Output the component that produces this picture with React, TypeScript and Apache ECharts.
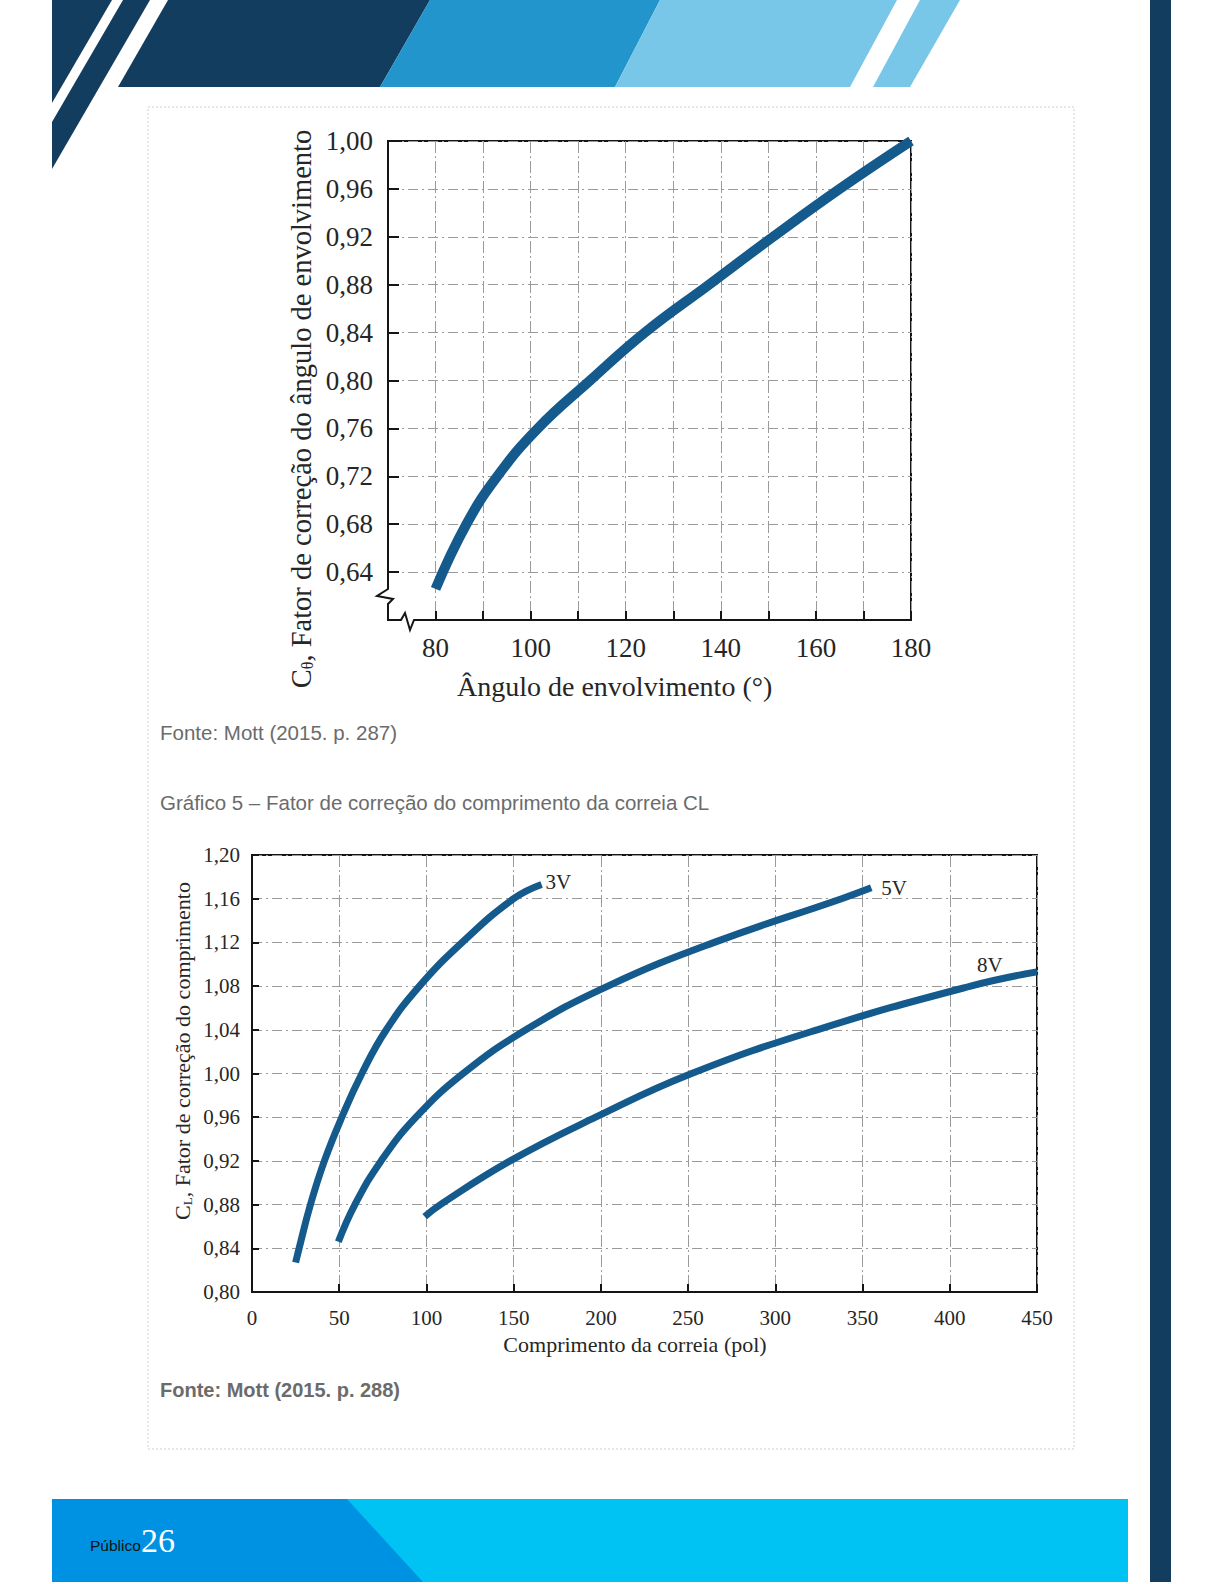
import React, { useEffect, useRef } from "react";
import * as echarts from "echarts";

// ---------- Data ----------
// Gráfico 4: fator de correção do ângulo de envolvimento
const ANGLE_DEG = [80, 86.5, 93, 101.5, 112.5, 124, 137.5, 151, 165, 180];
const ANGLE_CF = [0.626, 0.68, 0.72, 0.76, 0.8, 0.84, 0.88, 0.92, 0.96, 1.0];

// Gráfico 5: fator de correção do comprimento da correia
const SERIES_NAMES = ["3V", "5V", "8V"];
const LEN_3V = [25, 27, 33.5, 41.5, 51.5, 63, 77, 96, 120.5, 150, 166];
const CL_3V = [0.827, 0.84, 0.88, 0.92, 0.96, 1.0, 1.04, 1.08, 1.12, 1.16, 1.173];
const LEN_5V = [49.5, 59, 74, 94, 121, 157, 204, 265, 338, 355];
const CL_5V = [0.846, 0.88, 0.92, 0.96, 1.0, 1.04, 1.08, 1.12, 1.16, 1.17];
const LEN_8V = [99, 108, 148, 197, 252, 324, 412, 450];
const CL_8V = [0.869, 0.88, 0.92, 0.96, 1.0, 1.04, 1.08, 1.093];

// axis ranges / ticks
const X1_RANGE = [70, 180, 10];
const Y1_RANGE = [0.6, 1.0, 0.04];
const X2_RANGE = [0, 450, 50];
const Y2_RANGE = [0.8, 1.2, 0.04];

// texts
const TITLE_1_Y = "{c|C}{s|θ}{c|, Fator de correção do ângulo de envolvimento}";
const TITLE_1_X = "Ângulo de envolvimento (°)";
const TITLE_2_Y = "{c|C}{s|L}{c|, Fator de correção do comprimento}";
const TITLE_2_X = "Comprimento da correia (pol)";
const SOURCE_1 = "Fonte: Mott (2015. p. 287)";
const CAPTION_2 = "Gráfico 5 – Fator de correção do comprimento da correia CL";
const SOURCE_2 = "Fonte: Mott (2015. p. 288)";
const FOOTER_LABEL = "Público";
const PAGE_NUMBER = "26";

const SERIF = '"Liberation Serif", "Times New Roman", serif';
const SANS = '"Liberation Sans", Arial, sans-serif';
const NAVY = "#133D5E";
const MID_BLUE = "#2295CD";
const LIGHT_BLUE = "#78C7E8";
const CURVE = "#145A8C";
const INK = "#262626";
const CAPTION_GREY = "#6b6b6b";

const comma = (v: number) => v.toFixed(2).replace(".", ",");

function pairs(xs: number[], ys: number[]) {
  return xs.map((x, i) => [x, ys[i]]);
}

function buildOption() {
  const gridLine = (type: any) => ({
    show: true,
    lineStyle: { color: "#9a9a9a", width: 1, type },
  });
  const axisLine = { show: true, onZero: false, lineStyle: { color: "#151515", width: 2 } };
  const tick = (len: number) => ({
    show: true,
    inside: true,
    length: len,
    lineStyle: { color: "#151515", width: 2 },
  });

  const curveSeries = (
    name: string,
    xs: number[],
    ys: number[],
    width: number,
    idx: number,
    endLabel?: any
  ) => ({
    type: "line",
    name,
    xAxisIndex: idx,
    yAxisIndex: idx,
    data: pairs(xs, ys),
    smooth: 0.45,
    showSymbol: false,
    symbol: "none",
    lineStyle: { color: CURVE, width, cap: "butt" },
    endLabel,
    z: 5,
  });

  const endLabel = (text: string, offset: number[]) => ({
    show: true,
    formatter: text,
    fontFamily: SERIF,
    fontSize: 21,
    color: INK,
    distance: 4,
    offset,
  });

  const leftText = (text: string, x: number, y: number, extra: any) => ({
    type: "text",
    style: {
      text,
      x,
      y,
      align: "left",
      verticalAlign: "middle",
      textAlign: "left",
      textVerticalAlign: "middle",
      ...extra,
    },
  });

  const elements: any[] = [
    // header shapes
    { type: "polygon", shape: { points: [[52, 0], [112, 0], [52, 103]] }, style: { fill: NAVY } },
    { type: "polygon", shape: { points: [[123, 0], [150, 0], [52, 169], [52, 122]] }, style: { fill: NAVY } },
    { type: "polygon", shape: { points: [[168, 0], [430, 0], [380, 87], [118, 87]] }, style: { fill: NAVY } },
    { type: "polygon", shape: { points: [[430, 0], [660, 0], [615, 87], [380, 87]] }, style: { fill: MID_BLUE } },
    { type: "polygon", shape: { points: [[660, 0], [897, 0], [850, 87], [615, 87]] }, style: { fill: LIGHT_BLUE } },
    { type: "polygon", shape: { points: [[920, 0], [960, 0], [910, 87], [873, 87]] }, style: { fill: LIGHT_BLUE } },
    // right bar
    { type: "rect", shape: { x: 1150, y: 0, width: 21, height: 1582 }, style: { fill: NAVY } },
    // content box
    {
      type: "rect",
      shape: { x: 148, y: 107, width: 926, height: 1342 },
      style: { fill: "none", stroke: "#cfcfcf", lineWidth: 1, lineDash: [2, 2] },
    },
    // footer
    { type: "rect", shape: { x: 52, y: 1499, width: 1076, height: 83 }, style: { fill: "#00C3F4" } },
    { type: "polygon", shape: { points: [[52, 1499], [347, 1499], [423, 1582], [52, 1582]] }, style: { fill: "#0092E2" } },
    { ...leftText(FOOTER_LABEL, 90, 1545, { fontFamily: SANS, fontSize: 15.5, fill: "#111" }), z: 20 },
    { ...leftText(PAGE_NUMBER, 141, 1540, { fontFamily: SERIF, fontSize: 34, fill: "#ffffff" }), z: 21 },
    // captions
    leftText(SOURCE_1, 160, 732, { fontFamily: SANS, fontSize: 20.5, fill: CAPTION_GREY }),
    leftText(CAPTION_2, 160, 802, { fontFamily: SANS, fontSize: 20.5, fill: CAPTION_GREY }),
    leftText(SOURCE_2, 160, 1390, { fontFamily: SANS, fontSize: 20, fontWeight: "bold", fill: CAPTION_GREY }),
    // axis titles chart 1
    leftText(TITLE_1_X, 457, 686, { fontFamily: SERIF, fontSize: 28, fill: INK }),
    {
      type: "text",
      x: 301,
      y: 409,
      rotation: Math.PI / 2,
      style: {
        text: TITLE_1_Y,
        x: 0,
        y: 0,
        align: "center",
        verticalAlign: "middle",
        textAlign: "center",
        textVerticalAlign: "middle",
        fill: INK,
        rich: {
          c: { fontFamily: SERIF, fontSize: 28.5, fill: INK, color: INK },
          s: { fontFamily: SERIF, fontSize: 16, fill: INK, color: INK, verticalAlign: "bottom", padding: [12, 0, 0, 0] },
        },
      },
    },
    // axis titles chart 2
    {
      type: "text",
      style: { text: TITLE_2_X, x: 635, y: 1344, fontFamily: SERIF, fontSize: 22, fill: INK, align: "center", verticalAlign: "middle", textAlign: "center", textVerticalAlign: "middle" },
    },
    {
      type: "text",
      x: 182,
      y: 1051,
      rotation: Math.PI / 2,
      style: {
        text: TITLE_2_Y,
        x: 0,
        y: 0,
        align: "center",
        verticalAlign: "middle",
        textAlign: "center",
        textVerticalAlign: "middle",
        fill: INK,
        rich: {
          c: { fontFamily: SERIF, fontSize: 22, fill: INK, color: INK },
          s: { fontFamily: SERIF, fontSize: 13, fill: INK, color: INK, verticalAlign: "bottom", padding: [10, 0, 0, 0] },
        },
      },
    },
    // axis breaks on chart 1
    { type: "rect", shape: { x: 385, y: 588, width: 6, height: 17 }, style: { fill: "#fff" }, z: 50 },
    {
      type: "polyline",
      shape: { points: [[388, 586], [388, 589], [377, 596], [393, 599], [388, 604], [388, 607]] },
      style: { stroke: "#151515", lineWidth: 2, fill: "none" },
      z: 51,
    },
    { type: "rect", shape: { x: 399, y: 617, width: 17, height: 6 }, style: { fill: "#fff" }, z: 50 },
    {
      type: "polyline",
      shape: { points: [[397, 620], [401, 620], [405, 613], [410, 630], [414, 620], [418, 620]] },
      style: { stroke: "#151515", lineWidth: 2, fill: "none" },
      z: 51,
    },
  ];

  return {
    animation: false,
    backgroundColor: "#ffffff",
    grid: [
      { left: 388, top: 141, width: 523, height: 479, show: true, borderColor: "#151515", borderWidth: 2, backgroundColor: "transparent", containLabel: false, outerBoundsMode: "none" },
      { left: 252, top: 855, width: 785, height: 437, show: true, borderColor: "#151515", borderWidth: 2, backgroundColor: "transparent", containLabel: false, outerBoundsMode: "none" },
    ],
    xAxis: [
      {
        gridIndex: 0,
        type: "value",
        min: X1_RANGE[0],
        max: X1_RANGE[1],
        interval: X1_RANGE[2],
        axisLine,
        axisTick: tick(9),
        axisLabel: {
          formatter: (v: number) => (v >= 80 && v % 20 === 0 ? String(v) : ""),
          margin: 14,
          fontFamily: SERIF,
          fontSize: 27,
          color: INK,
        },
        splitLine: gridLine([12, 3, 2, 3]),
      },
      {
        gridIndex: 1,
        type: "value",
        min: X2_RANGE[0],
        max: X2_RANGE[1],
        interval: X2_RANGE[2],
        axisLine,
        axisTick: tick(8),
        axisLabel: { margin: 15, fontFamily: SERIF, fontSize: 21, color: INK },
        splitLine: gridLine([12, 3, 2, 3]),
      },
    ],
    yAxis: [
      {
        gridIndex: 0,
        type: "value",
        min: Y1_RANGE[0],
        max: Y1_RANGE[1],
        interval: Y1_RANGE[2],
        axisLine,
        axisTick: tick(11),
        axisLabel: {
          formatter: (v: number) => (Math.abs(v - 0.6) < 1e-6 ? "" : comma(v)),
          margin: 15,
          fontFamily: SERIF,
          fontSize: 27,
          color: INK,
        },
        splitLine: gridLine([10, 4, 2, 4]),
      },
      {
        gridIndex: 1,
        type: "value",
        min: Y2_RANGE[0],
        max: Y2_RANGE[1],
        interval: Y2_RANGE[2],
        axisLine,
        axisTick: tick(7),
        axisLabel: { formatter: (v: number) => comma(v), margin: 12, fontFamily: SERIF, fontSize: 21, color: INK },
        splitLine: gridLine([10, 4, 2, 4]),
      },
    ],
    series: [
      curveSeries("Cθ", ANGLE_DEG, ANGLE_CF, 10, 0),
      curveSeries(SERIES_NAMES[0], LEN_3V, CL_3V, 7, 1, endLabel(SERIES_NAMES[0], [0, -2])),
      curveSeries(SERIES_NAMES[1], LEN_5V, CL_5V, 7, 1, endLabel(SERIES_NAMES[1], [6, 0])),
      curveSeries(SERIES_NAMES[2], LEN_8V, CL_8V, 7, 1, endLabel(SERIES_NAMES[2], [-64, -7])),
    ],
    graphic: { elements },
  };
}

export default function App() {
  const ref = useRef<HTMLDivElement>(null);
  useEffect(() => {
    if (!ref.current) return;
    const chart = echarts.init(ref.current, null, { renderer: "svg", width: 1224, height: 1584 });
    chart.setOption(buildOption() as any);
    return () => chart.dispose();
  }, []);
  return (
    <div
      ref={ref}
      style={{ position: "absolute", left: 0, top: 0, width: 1224, height: 1584, background: "#fff" }}
    />
  );
}
